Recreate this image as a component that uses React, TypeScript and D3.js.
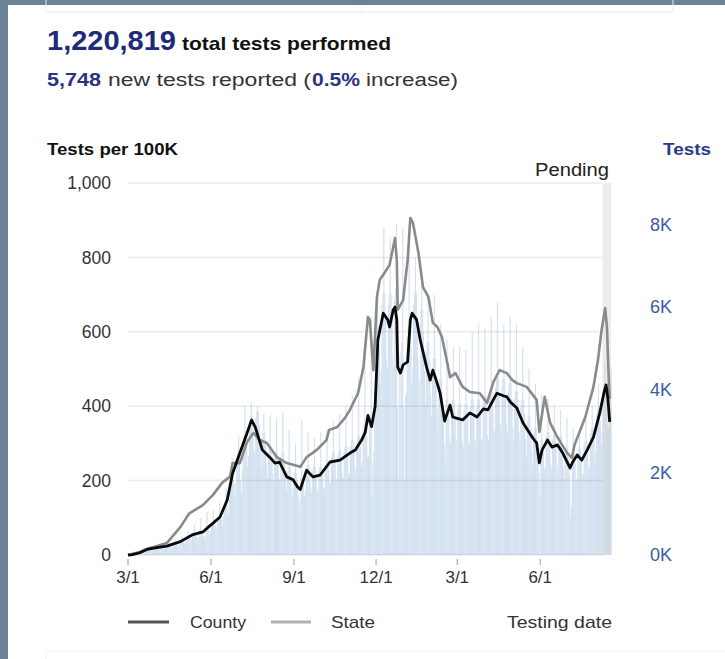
import React from "react";
import * as d3 from "d3";

// ---------- data ----------
const startDay = "2020-03-01";
const endDay = "2021-08-19";
const pendingStart = "2021-08-09";

// daily tests reported (Sun..Sat per row), starting 2020-03-01
const dailyTests: number[] = [
  0, 0, 10, 20, 20, 30, 10,
  40, 50, 60, 90, 60, 50, 50,
  100, 130, 140, 180, 140, 130, 100,
  130, 170, 180, 220, 180, 160, 140,
  140, 190, 200, 230, 200, 180, 150,
  160, 210, 220, 250, 220, 200, 160,
  170, 230, 240, 290, 240, 220, 180,
  210, 280, 300, 360, 300, 270, 220,
  240, 330, 350, 450, 350, 320, 260,
  310, 430, 450, 590, 450, 410, 330,
  380, 520, 540, 720, 540, 500, 410,
  430, 570, 590, 900, 590, 540, 440,
  450, 360, 650, 1040, 650, 590, 480,
  570, 760, 790, 1080, 790, 720, 590,
  670, 900, 950, 1260, 950, 860, 700,
  920, 1230, 1290, 1620, 1290, 1170, 960,
  1330, 1800, 1880, 2340, 1880, 1710, 1410,
  1760, 2370, 2480, 2880, 2480, 1800, 1480,
  2040, 2750, 2870, 3600, 2870, 2610, 2150,
  2390, 3210, 3370, 3690, 3370, 3060, 2520,
  2470, 3310, 3470, 3600, 3470, 3150, 2590,
  2120, 2840, 2970, 3420, 2970, 2700, 2220,
  1860, 2500, 2630, 3380, 2630, 2390, 1960,
  1760, 2370, 2480, 3330, 2480, 2250, 1850,
  1760, 2370, 2480, 3440, 2480, 2250, 1850,
  1510, 2030, 2130, 3020, 2130, 1940, 1590,
  1410, 1890, 1980, 2700, 1980, 1800, 1480,
  1330, 990, 1880, 3270, 1880, 1710, 1410,
  1550, 2080, 2180, 2970, 2180, 1980, 1630,
  1510, 2030, 2130, 2830, 2130, 1940, 1590,
  1510, 2030, 2130, 2970, 2130, 1940, 1590,
  1620, 2170, 2280, 3060, 2280, 2070, 1700,
  1760, 2370, 2480, 3240, 2480, 2250, 1850,
  1790, 2410, 2520, 3420, 2520, 2300, 1890,
  1860, 2500, 2630, 3600, 2630, 2390, 1960,
  1970, 2650, 2770, 3870, 2770, 2520, 2070,
  2040, 2740, 2870, 4320, 2870, 2610, 2150,
  2240, 3020, 3170, 5040, 3170, 2880, 2370,
  2390, 3210, 3370, 5760, 1350, 2250, 2520,
  3930, 5290, 5540, 6300, 5540, 5040, 4140,
  4500, 6050, 6340, 7920, 6340, 5760, 4740,
  4500, 6050, 6340, 7650, 6340, 5760, 4740,
  4570, 6150, 6440, 8010, 3600, 1800, 4810,
  3650, 4910, 5150, 7920, 3600, 1800, 3850,
  3930, 5290, 5540, 8010, 5540, 5040, 4140,
  4500, 6050, 6340, 7200, 6340, 5760, 4740,
  4220, 3600, 5940, 6840, 5940, 5400, 4440,
  3650, 4910, 5150, 6300, 5150, 4680, 3850,
  3380, 4540, 4750, 6300, 4750, 4320, 3550,
  3020, 4070, 4260, 5580, 4260, 3870, 3180,
  2670, 2250, 3760, 5220, 3760, 3420, 2810,
  2670, 3590, 3760, 5040, 3760, 3420, 2810,
  2600, 3500, 3660, 5040, 3660, 3330, 2740,
  2600, 3500, 3660, 4950, 3660, 3330, 2740,
  2670, 3590, 3760, 5400, 3760, 3420, 2810,
  2670, 3590, 3760, 5580, 3760, 3420, 2810,
  2740, 3690, 3860, 5490, 3860, 3510, 2890,
  2780, 3730, 3910, 5760, 3910, 3560, 2920,
  3020, 4070, 4260, 6120, 4260, 3870, 3180,
  3020, 4070, 4260, 5580, 4260, 3870, 3180,
  2950, 3970, 4160, 5760, 4160, 3780, 3110,
  2810, 3780, 3960, 5580, 3960, 3600, 2960,
  2670, 3590, 3760, 5040, 3760, 3420, 2810,
  2390, 3210, 3370, 4500, 3370, 3060, 2520,
  2170, 2930, 3070, 4140, 3070, 2790, 2290,
  1970, 1350, 2770, 3870, 2770, 2520, 2070,
  2120, 2840, 2970, 3780, 2970, 2700, 2220,
  2070, 2790, 2920, 3600, 2920, 2660, 2180,
  2040, 2740, 2870, 3510, 2870, 2610, 2150,
  1830, 2460, 2570, 3330, 2570, 2340, 1920,
  900, 1170, 2480, 3060, 2480, 2250, 1850,
  1830, 2460, 2570, 3060, 2570, 2340, 1920,
  1970, 2650, 2770, 3330, 2770, 2520, 2070,
  2170, 2930, 3070, 3600, 3070, 2790, 2290,
  2530, 3400, 3560, 4140, 3560, 3240, 2660,
  2950, 3970, 4160, 4680, 4160, 3780, 3110,
  3090, 4160, 4360, 4500,
];

// tests per 100K, county
const countyPoints: [string, number][] = [
  ["2020-03-01", 0], ["2020-03-06", 1], ["2020-03-14", 6], ["2020-03-22", 15],
  ["2020-04-02", 20], ["2020-04-13", 24], ["2020-04-28", 36], ["2020-05-12", 55],
  ["2020-05-23", 62], ["2020-05-29", 75], ["2020-06-03", 85], ["2020-06-11", 102],
  ["2020-06-19", 148], ["2020-06-25", 220], ["2020-07-03", 274], ["2020-07-11", 328],
  ["2020-07-16", 363], ["2020-07-20", 344], ["2020-07-28", 282], ["2020-08-05", 263],
  ["2020-08-11", 247], ["2020-08-16", 250], ["2020-08-24", 210], ["2020-08-31", 202],
  ["2020-09-05", 183], ["2020-09-08", 176], ["2020-09-15", 228], ["2020-09-22", 210],
  ["2020-09-30", 215], ["2020-10-11", 250], ["2020-10-22", 255], ["2020-11-02", 274],
  ["2020-11-08", 282], ["2020-11-15", 309], ["2020-11-19", 330], ["2020-11-22", 375],
  ["2020-11-26", 345], ["2020-11-30", 400], ["2020-12-03", 578], ["2020-12-09", 650],
  ["2020-12-14", 632], ["2020-12-16", 613], ["2020-12-20", 659], ["2020-12-22", 667],
  ["2020-12-24", 632], ["2020-12-25", 505], ["2020-12-28", 489], ["2020-12-31", 511],
  ["2021-01-05", 519], ["2021-01-08", 632], ["2021-01-10", 650], ["2021-01-15", 632],
  ["2021-01-19", 578], ["2021-01-26", 505], ["2021-01-30", 470], ["2021-02-02", 497],
  ["2021-02-07", 460], ["2021-02-10", 435], ["2021-02-15", 360], ["2021-02-21", 403],
  ["2021-02-24", 371], ["2021-02-28", 368], ["2021-03-07", 363], ["2021-03-15", 382],
  ["2021-03-23", 371], ["2021-03-30", 393], ["2021-04-04", 390], ["2021-04-14", 435],
  ["2021-04-21", 428], ["2021-04-25", 425], ["2021-04-29", 411], ["2021-05-06", 395],
  ["2021-05-13", 355], ["2021-05-23", 317], ["2021-05-28", 301], ["2021-05-31", 248],
  ["2021-06-03", 282], ["2021-06-09", 309], ["2021-06-14", 290], ["2021-06-20", 296],
  ["2021-06-26", 274], ["2021-07-04", 234], ["2021-07-07", 250], ["2021-07-12", 269],
  ["2021-07-17", 255], ["2021-07-23", 282], ["2021-07-30", 317], ["2021-08-06", 382],
  ["2021-08-11", 440], ["2021-08-13", 457], ["2021-08-15", 420], ["2021-08-17", 358],
];

// tests per 100K, state
const statePoints: [string, number][] = [
  ["2020-03-01", 0], ["2020-03-14", 8], ["2020-03-22", 16], ["2020-04-13", 32],
  ["2020-04-28", 75], ["2020-05-08", 112], ["2020-05-23", 134], ["2020-06-03", 161],
  ["2020-06-14", 196], ["2020-06-22", 210], ["2020-06-25", 247], ["2020-07-03", 247],
  ["2020-07-11", 304], ["2020-07-18", 328], ["2020-07-25", 309], ["2020-08-02", 301],
  ["2020-08-13", 263], ["2020-08-24", 247], ["2020-09-08", 237], ["2020-09-15", 263],
  ["2020-09-26", 282], ["2020-10-07", 309], ["2020-10-10", 336], ["2020-10-19", 344],
  ["2020-10-28", 370], ["2020-11-02", 390], ["2020-11-08", 420], ["2020-11-11", 435],
  ["2020-11-17", 505], ["2020-11-22", 640], ["2020-11-24", 632], ["2020-11-28", 497],
  ["2020-12-02", 694], ["2020-12-05", 739], ["2020-12-11", 761], ["2020-12-16", 780],
  ["2020-12-22", 852], ["2020-12-24", 793], ["2020-12-25", 659], ["2020-12-31", 685],
  ["2021-01-05", 793], ["2021-01-08", 906], ["2021-01-11", 892], ["2021-01-17", 812],
  ["2021-01-22", 720], ["2021-01-28", 694], ["2021-02-02", 624], ["2021-02-07", 613],
  ["2021-02-12", 586], ["2021-02-18", 516], ["2021-02-21", 478], ["2021-02-27", 489],
  ["2021-03-07", 452], ["2021-03-15", 438], ["2021-03-26", 435], ["2021-04-03", 409],
  ["2021-04-10", 465], ["2021-04-17", 497], ["2021-04-25", 489], ["2021-05-01", 470],
  ["2021-05-06", 462], ["2021-05-17", 452], ["2021-05-28", 417], ["2021-05-31", 331],
  ["2021-06-06", 425], ["2021-06-12", 355], ["2021-06-20", 317], ["2021-07-01", 274],
  ["2021-07-06", 261], ["2021-07-09", 296], ["2021-07-21", 371], ["2021-07-30", 452],
  ["2021-08-04", 524], ["2021-08-08", 605], ["2021-08-12", 664], ["2021-08-14", 610],
  ["2021-08-16", 470], ["2021-08-17", 420],
];

const leftTicks = [0, 200, 400, 600, 800, 1000];
const rightTicks = [0, 2000, 4000, 6000, 8000];
const xTickDates = ["2020-03-01", "2020-06-01", "2020-09-01", "2020-12-01", "2021-03-01", "2021-06-01"];

// ---------- helpers ----------
const FONT = "'Liberation Sans', Arial, Helvetica, sans-serif";
const parse = (s: string) => {
  const [y, m, d] = s.split("-").map(Number);
  return new Date(Date.UTC(y, m - 1, d));
};
const DAY = 86400000;

export default function App() {
  const x = d3.scaleUtc().domain([parse(startDay), parse(endDay)]).range([128, 611.5]);
  const yL = d3.scaleLinear().domain([0, 1000]).range([555, 183]);
  const yR = d3.scaleLinear().domain([0, 9000]).range([555, 183]);
  const t0 = parse(startDay).getTime();
  const fmtX = d3.utcFormat("%-m/%-d");
  const fmtL = d3.format(",");

  const line = d3
    .line<[string, number]>()
    .x((d) => x(parse(d[0])))
    .y((d) => yL(d[1]));

  const pendX0 = x(parse(pendingStart));
  const pendX1 = x(parse(endDay)) - 0.5;

  return (
    <div style={{ position: "absolute", left: 0, top: 0 }}>
      <svg width={725} height={659} style={{ display: "block", fontFamily: FONT }}>
        <rect x={0} y={0} width={725} height={659} fill="#6b8299" />
        <rect x={8} y={5} width={717} height={654} fill="#ffffff" />
        {/* faint boxes */}
        <rect x={46} y={-4} width={627} height={16} fill="none" stroke="#e9ecf3" strokeWidth={1} />
        <line x1={360} x2={360} y1={5} y2={12} stroke="#e9ecf3" />
        <rect x={46} y={651} width={700} height={20} fill="none" stroke="#eceff5" strokeWidth={1} />

        {/* header */}
        <text x={47} y={50} fontSize={27} fontWeight={700} fill="#1f2a7a" textLength={129} lengthAdjust="spacingAndGlyphs">1,220,819</text>
        <text x={182} y={50} fontSize={19} fontWeight={700} fill="#111" textLength={209} lengthAdjust="spacingAndGlyphs">total tests performed</text>
        <text x={47} y={86} fontSize={18} fontWeight={700} fill="#2a3480" textLength={54} lengthAdjust="spacingAndGlyphs">5,748</text>
        <text x={108} y={86} fontSize={18} fill="#333" textLength={203} lengthAdjust="spacingAndGlyphs">new tests reported (</text>
        <text x={312} y={86} fontSize={18} fontWeight={700} fill="#2a3480" textLength={48} lengthAdjust="spacingAndGlyphs">0.5%</text>
        <text x={366} y={86} fontSize={18} fill="#333" textLength={92} lengthAdjust="spacingAndGlyphs">increase)</text>

        {/* axis titles */}
        <text x={47} y={155} fontSize={17} fontWeight={700} fill="#111" textLength={131} lengthAdjust="spacingAndGlyphs">Tests per 100K</text>
        <text x={663} y={155} fontSize={17} fontWeight={700} fill="#2b3a8c" textLength={48} lengthAdjust="spacingAndGlyphs">Tests</text>

        {/* daily bars */}
        <g fill="#d3e1f0">
          {dailyTests.map((v, i) => {
            const d0 = new Date(t0 + i * DAY);
            const d1 = new Date(t0 + (i + 1) * DAY);
            const x0 = x(d0);
            const w = x(d1) - x0 + 0.25;
            return <rect key={i} x={x0} y={yR(v)} width={w} height={yR(0) - yR(v)} />;
          })}
        </g>

        {/* gridlines */}
        {leftTicks.map((t) => (
          <line key={t} x1={128} x2={pendX0} y1={yL(t)} y2={yL(t)} stroke="rgba(0,0,0,0.08)" strokeWidth={1.5} />
        ))}

        {/* pending band */}
        <rect x={pendX0} y={183} width={pendX1 - pendX0} height={372} fill="#d0d0d0" opacity={0.4} />
        <text x={609} y={176} fontSize={18} fill="#222" textAnchor="end" textLength={74} lengthAdjust="spacingAndGlyphs">Pending</text>

        {/* lines */}
        <path d={line(statePoints) || ""} fill="none" stroke="#8a8a8a" strokeWidth={2.6} strokeLinejoin="round" />
        <path d={line(countyPoints) || ""} fill="none" stroke="#0a0a0a" strokeWidth={2.8} strokeLinejoin="round" />

        {/* left ticks */}
        {leftTicks.map((t) => (
          <text key={t} x={111} y={yL(t)} dy="0.35em" fontSize={17.5} fill="#333" textAnchor="end">{fmtL(t)}</text>
        ))}
        {/* right ticks */}
        {rightTicks.map((t) => (
          <text key={t} x={650} y={yR(t)} dy="0.35em" fontSize={18} fill="#3b5ba5">{t / 1000 + "K"}</text>
        ))}
        {/* x ticks */}
        {xTickDates.map((s) => {
          const xx = x(parse(s));
          return (
            <g key={s}>
              <line x1={xx} x2={xx} y1={559} y2={565} stroke="#9a9a9a" strokeWidth={1} />
              <text x={xx} y={583} fontSize={17} fill="#333" textAnchor="middle">{fmtX(parse(s))}</text>
            </g>
          );
        })}

        {/* legend */}
        <line x1={128} x2={169} y1={622} y2={622} stroke="#555" strokeWidth={3} />
        <text x={190} y={628} fontSize={17} fill="#333" textLength={56} lengthAdjust="spacingAndGlyphs">County</text>
        <line x1={271} x2={311} y1={622} y2={622} stroke="#b0b0b0" strokeWidth={3} />
        <text x={331} y={628} fontSize={17} fill="#333" textLength={44} lengthAdjust="spacingAndGlyphs">State</text>
        <text x={507} y={628} fontSize={17} fill="#333" textLength={105} lengthAdjust="spacingAndGlyphs">Testing date</text>
      </svg>
    </div>
  );
}
